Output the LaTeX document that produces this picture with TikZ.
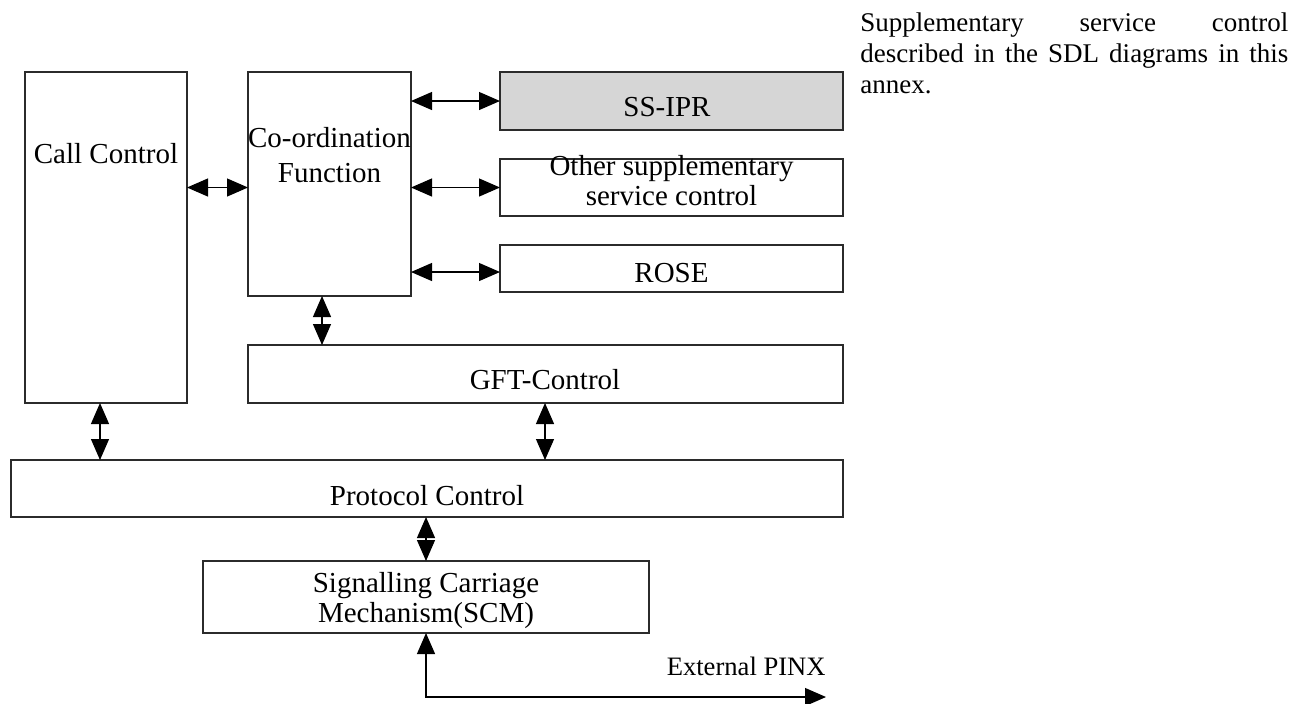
\documentclass[tikz,border=0pt]{standalone}
\usepackage{fontspec}
\setmainfont{Liberation Serif}
\usetikzlibrary{positioning,arrows.meta,calc}
\definecolor{dotgrey}{HTML}{D6D6D6}
\definecolor{edge}{HTML}{2B2B2B}
\hyphenpenalty=10000
\tolerance=10000

\begin{document}
\begin{tikzpicture}[x=0.5pt,y=-0.5pt,
    blk/.style={draw=edge,line width=0.7pt,inner sep=0pt,outer sep=0pt},
    lbl/.style={font=\fontsize{14.5}{15}\selectfont,inner sep=0pt,align=center},
    note/.style={font=\fontsize{13.5}{15.5}\selectfont,text width=214pt,align=justify,inner sep=0pt},
    both/.style={line width=0.6pt,{Triangle[length=10.5pt,width=9pt]}-{Triangle[length=10.5pt,width=9pt]}}]
  \useasboundingbox (0,0) rectangle (1294,703);
  % boxes
  \node[blk,minimum width=81pt,minimum height=165.5pt] (call) at (106,237.5) {};
  \node[blk,minimum width=81.5pt,minimum height=112pt] (coord) at (329.5,184) {};
  \node[blk,fill=dotgrey,minimum width=171.5pt,minimum height=29pt] (ssipr) at (671.5,101) {};
  \node[blk,minimum width=171.5pt,minimum height=28.5pt] (other) at (671.5,187.5) {};
  \node[blk,minimum width=171.5pt,minimum height=23.5pt] (rose) at (671.5,268.5) {};
  \node[blk,minimum width=297.5pt,minimum height=29pt] (gft) at (545.5,374) {};
  \node[blk,minimum width=416pt,minimum height=28.5pt] (proto) at (427,488.5) {};
  \node[blk,minimum width=223pt,minimum height=36pt] (scm) at (426,597) {};
  % texts (base = last line)
  \node[lbl,anchor=base] (calltxt) at (106,163) {Call Control};
  \node[lbl,anchor=base] (coordtxt) at (329.5,182) {Co-ordination\\[2.5pt]Function};
  \node[lbl,anchor=base] (ssiprtxt) at (667,116) {SS-IPR};
  \node[lbl,anchor=base] (othertxt) at (671.5,205) {Other supplementary\\service control};
  \node[lbl,anchor=base] (rosetxt) at (671.5,282) {ROSE};
  \node[lbl,anchor=base] (gfttxt) at (545,389) {GFT-Control};
  \node[lbl,anchor=base] (prototxt) at (427,505) {Protocol Control};
  \node[lbl,anchor=base] (scmtxt) at (426,622) {Signalling Carriage\\Mechanism(SCM)};
  \node[note,anchor=north west] (note) at (860,12)
    {Supplementary service control\linebreak described in the SDL diagrams in this\linebreak annex.};
  % connectors
  \draw[both] (call.east |- other.west) -- (coord.west |- other.west);
  \draw[both] (coord.east |- ssipr.west) -- (ssipr.west);
  \draw[both] (coord.east |- other.west) -- (other.west);
  \draw[both] (coord.east |- 0,272) -- (rose.west |- 0,272);
  \draw[both] (coord.south -| 322,0) -- (gft.north -| 322,0);
  \draw[both] (call.south -| 100,0) -- (proto.north -| 100,0);
  \draw[both] (gft.south -| 545,0) -- (proto.north -| 545,0);
  \draw[both] (proto.south -| scm.north) -- (scm.north);
  \coordinate (pinx) at (826,697);
  \draw[both] (scm.south) -- (scm.south |- pinx) -- (pinx);
  \node[font=\fontsize{13.3}{15}\selectfont,inner sep=0pt,anchor=base east] (pinxtxt) at (826,675) {External PINX};
\end{tikzpicture}
\end{document}
